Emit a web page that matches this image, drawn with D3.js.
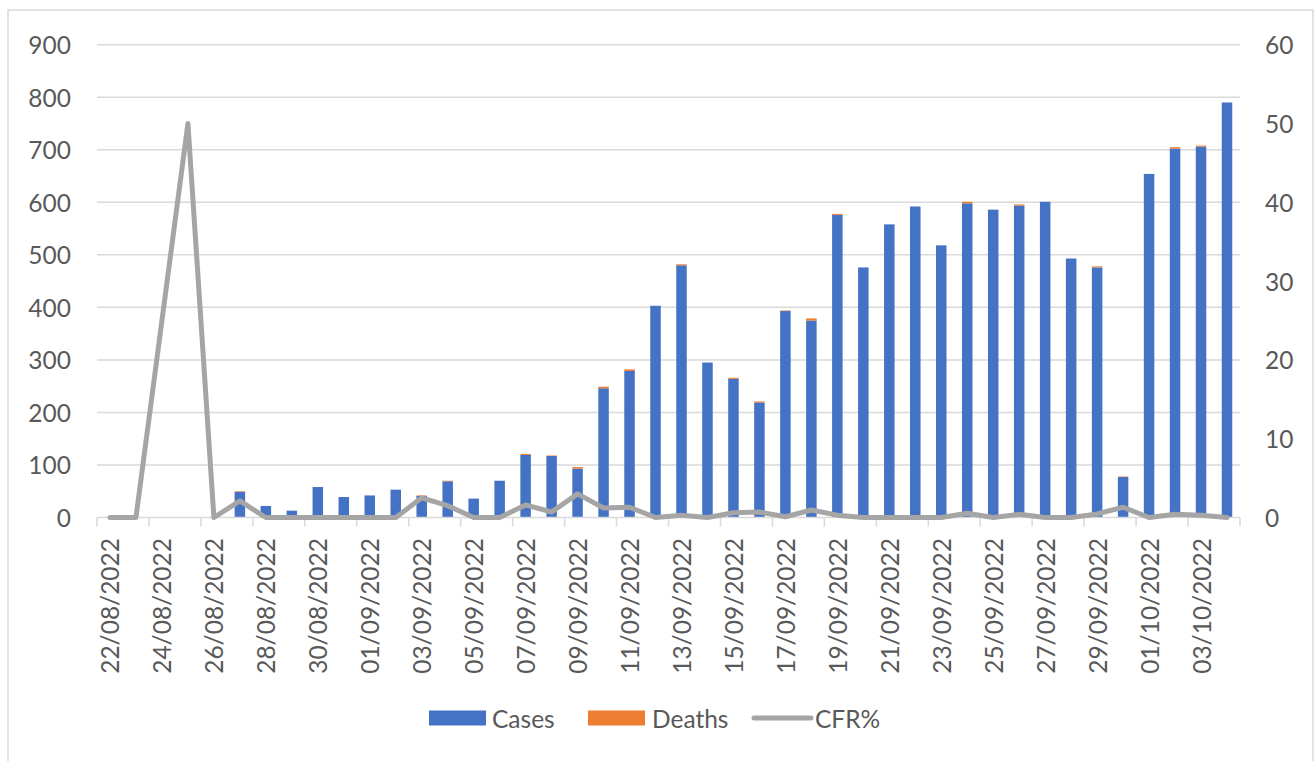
<!DOCTYPE html>
<html>
<head>
<meta charset="utf-8">
<script src="https://cdn.jsdelivr.net/npm/d3@7"></script>
<style>
  html, body { margin: 0; padding: 0; background: #fff; }
  svg { display: block; }
  text { font-family: Lato, "Open Sans", sans-serif; fill: #595959; }
</style>
</head>
<body>
<svg id="chart" width="1315" height="761"></svg>
<script>
// ---- data ----
const dates = [
  "22/08/2022","23/08/2022","24/08/2022","25/08/2022","26/08/2022","27/08/2022","28/08/2022","29/08/2022",
  "30/08/2022","31/08/2022","01/09/2022","02/09/2022","03/09/2022","04/09/2022","05/09/2022","06/09/2022",
  "07/09/2022","08/09/2022","09/09/2022","10/09/2022","11/09/2022","12/09/2022","13/09/2022","14/09/2022",
  "15/09/2022","16/09/2022","17/09/2022","18/09/2022","19/09/2022","20/09/2022","21/09/2022","22/09/2022",
  "23/09/2022","24/09/2022","25/09/2022","26/09/2022","27/09/2022","28/09/2022","29/09/2022","30/09/2022",
  "01/10/2022","02/10/2022","03/10/2022","04/10/2022"
];
const cases = [
  0, 0, 0, 0, 0, 49, 22, 13,
  58, 39, 42, 53, 41, 69, 36, 70,
  119, 117, 93, 246, 279, 403, 480, 295,
  264, 219, 393, 375, 576, 476, 558, 592,
  518, 598, 586, 594, 601, 493, 476, 77,
  654, 702, 706, 790
];
const deaths = [
  0, 0, 0, 0, 0, 1, 0, 0,
  0, 0, 0, 0, 1, 1, 0, 0,
  2, 1, 3, 3, 3, 0, 2, 0,
  2, 2, 1, 4, 2, 0, 0, 0,
  0, 3, 0, 2, 0, 0, 2, 1,
  0, 3, 2, 0
];
const cfr = [
  0, 0, null, 50, 0, 2.1, 0, 0,
  0, 0, 0, 0, 2.5, 1.5, 0, 0,
  1.6, 0.7, 3.0, 1.2, 1.3, 0, 0.3, 0,
  0.6, 0.7, 0.1, 0.95, 0.3, 0, 0, 0,
  0, 0.55, 0, 0.4, 0, 0, 0.45, 1.3,
  0, 0.4, 0.3, 0
];
const leftTicks = [0, 100, 200, 300, 400, 500, 600, 700, 800, 900];
const rightTicks = [0, 10, 20, 30, 40, 50, 60];
const seriesNames = ["Cases", "Deaths", "CFR%"];
const colors = { Cases: "#4472C4", Deaths: "#ED7D31", "CFR%": "#A5A5A5" };

// ---- layout ----
const svg = d3.select("#chart");
const plot = { left: 97, right: 1240, top: 44.7, bottom: 517.5 };

svg.append("rect")
  .attr("x", 8).attr("y", 10).attr("width", 1305).attr("height", 770)
  .attr("fill", "#fff").attr("stroke", "#d9d9d9").attr("stroke-width", 1.5);

const x = d3.scaleBand().domain(dates).range([plot.left, plot.right]).paddingInner(0.6).paddingOuter(0.3);
const xStep = (plot.right - plot.left) / dates.length;
const yL = d3.scaleLinear().domain([0, 900]).range([plot.bottom, plot.top]);
const yR = d3.scaleLinear().domain([0, 60]).range([plot.bottom, plot.top]);

// gridlines
svg.append("g").selectAll("line").data(leftTicks.filter(d => d > 0)).join("line")
  .attr("x1", plot.left).attr("x2", plot.right)
  .attr("y1", d => yL(d)).attr("y2", d => yL(d))
  .attr("stroke", "#d9d9d9").attr("stroke-width", 1.5);

// left axis labels
svg.append("g").selectAll("text").data(leftTicks).join("text")
  .attr("x", 71).attr("y", d => yL(d))
  .attr("text-anchor", "end").attr("dominant-baseline", "central")
  .style("font-size", "24.5px")
  .text(d => d);

// right axis labels
svg.append("g").selectAll("text").data(rightTicks).join("text")
  .attr("x", 1265).attr("y", d => yR(d))
  .attr("text-anchor", "start").attr("dominant-baseline", "central")
  .style("font-size", "24.5px")
  .text(d => d);

// stacked bars
const stackData = dates.map((d, i) => ({ date: d, Cases: cases[i], Deaths: deaths[i] }));
const stacked = d3.stack().keys(["Cases", "Deaths"])(stackData);
const bw = 10.5;
svg.append("g").selectAll("g").data(stacked).join("g")
  .attr("fill", s => colors[s.key])
  .selectAll("rect").data(s => s).join("rect")
  .attr("x", d => x(d.data.date) + x.bandwidth() / 2 - bw / 2)
  .attr("width", bw)
  .attr("y", d => yL(d[1]))
  .attr("height", d => Math.max(0, yL(d[0]) - yL(d[1])));

// x axis line and ticks
const axisG = svg.append("g");
axisG.append("line")
  .attr("x1", plot.left).attr("x2", plot.right)
  .attr("y1", plot.bottom).attr("y2", plot.bottom)
  .attr("stroke", "#d9d9d9").attr("stroke-width", 1.5);
const tickIdx = d3.range(0, dates.length + 1, 2);
axisG.selectAll("line.tick").data(tickIdx).join("line").attr("class", "tick")
  .attr("x1", i => plot.left + i * xStep).attr("x2", i => plot.left + i * xStep)
  .attr("y1", plot.bottom).attr("y2", plot.bottom + 9)
  .attr("stroke", "#d9d9d9").attr("stroke-width", 1.5);

// x labels (every other date)
axisG.selectAll("text").data(dates.filter((d, i) => i % 2 === 0)).join("text")
  .attr("transform", d => `translate(${x(d) + x.bandwidth() / 2},538) rotate(-90)`)
  .attr("text-anchor", "end").attr("dominant-baseline", "central")
  .style("font-size", "24.5px")
  .text(d => d);

// CFR line
const cfrPts = dates.map((d, i) => ({ date: d, v: cfr[i] })).filter(p => p.v !== null);
svg.append("path").datum(cfrPts)
  .attr("fill", "none").attr("stroke", colors["CFR%"]).attr("stroke-width", 5)
  .attr("stroke-linejoin", "round").attr("stroke-linecap", "round")
  .attr("d", d3.line().x(p => x(p.date) + x.bandwidth() / 2).y(p => yR(p.v)));

// legend
const leg = svg.append("g");
const legY = 718;
leg.append("rect").attr("x", 429).attr("y", legY - 7.5).attr("width", 57).attr("height", 15).attr("fill", colors.Cases);
leg.append("text").attr("x", 492).attr("y", legY).attr("dominant-baseline", "central").style("font-size", "24.5px").text(seriesNames[0]);
leg.append("rect").attr("x", 588).attr("y", legY - 7.5).attr("width", 57).attr("height", 15).attr("fill", colors.Deaths);
leg.append("text").attr("x", 652).attr("y", legY).attr("dominant-baseline", "central").style("font-size", "24.5px").text(seriesNames[1]);
leg.append("line").attr("x1", 754).attr("x2", 811).attr("y1", legY).attr("y2", legY)
  .attr("stroke", colors["CFR%"]).attr("stroke-width", 5).attr("stroke-linecap", "round");
leg.append("text").attr("x", 815).attr("y", legY).attr("dominant-baseline", "central").style("font-size", "24.5px").text(seriesNames[2]);
</script>
</body>
</html>
